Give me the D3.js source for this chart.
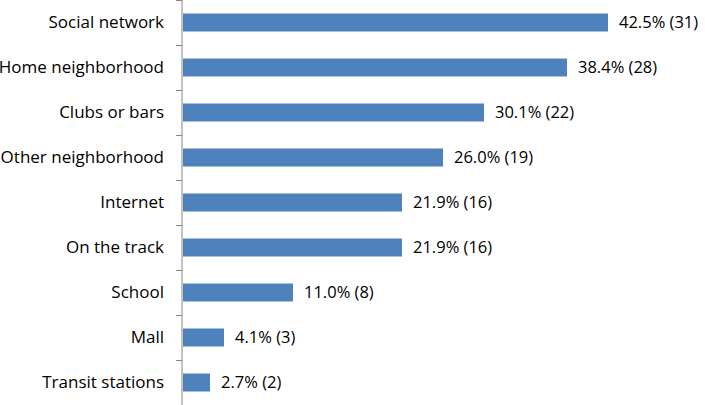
<!DOCTYPE html>
<html>
<head>
<meta charset="utf-8">
<script src="https://cdn.jsdelivr.net/npm/d3@7"></script>
<style>
  body { margin: 0; background: #fff; }
  svg { display: block; }
</style>
</head>
<body>
<div id="chart"></div>
<script>
'use strict';

// Data
const categories = ['Social network', 'Home neighborhood', 'Clubs or bars', 'Other neighborhood',
    'Internet', 'On the track', 'School', 'Mall', 'Transit stations'];
const percents = [42.5, 38.4, 30.1, 26.0, 21.9, 21.9, 11.0, 4.1, 2.7];
const counts = [31, 28, 22, 19, 16, 16, 8, 3, 2];

const width = 705, height = 405;
const margin = {top: 0, right: 72, bottom: 0, left: 183};

let data = categories.map((c, i) => ({name: c, pct: percents[i], n: counts[i]}));

let svg = d3.select('#chart').append('svg')
    .attr('width', width).attr('height', height);

let chart = svg.append('g').attr('transform', `translate(${margin.left},${margin.top})`);

// Scales
let x = d3.scaleLinear().domain([0, 45]).range([0, 450]);
let y = d3.scaleBand().domain(categories).range([0, height]).paddingInner(0.6).paddingOuter(0.3);

// Bars
chart.selectAll('rect.bar')
    .data(data)
    .join('rect')
    .classed('bar', true)
    .attr('x', 0)
    .attr('y', d => y(d.name))
    .attr('width', d => x(d.pct))
    .attr('height', y.bandwidth())
    .attr('fill', '#4F81BD');

// Value labels
chart.selectAll('text.value')
    .data(data)
    .join('text')
    .classed('value', true)
    .attr('x', d => x(d.pct) + 11)
    .attr('y', d => y(d.name) + y.bandwidth() / 2)
    .attr('dy', '0.35em')
    .attr('font-family', 'Open Sans, sans-serif')
    .attr('font-size', 16.5)
    .attr('fill', '#000')
    .text(d => `${d.pct.toFixed(1)}% (${d.n})`);

// Category axis
let step = height / categories.length;
let axisG = svg.append('g').attr('transform', `translate(${margin.left - 1},0)`);
axisG.append('line')
    .attr('y1', 0).attr('y2', height)
    .attr('stroke', '#868686').attr('stroke-width', 1);
axisG.selectAll('line.tick')
    .data(d3.range(categories.length + 1))
    .join('line')
    .classed('tick', true)
    .attr('x1', -6).attr('x2', 0)
    .attr('y1', i => Math.round(i * step) + 0.5)
    .attr('y2', i => Math.round(i * step) + 0.5)
    .attr('stroke', '#868686');
axisG.selectAll('text.cat')
    .data(categories)
    .join('text')
    .classed('cat', true)
    .attr('x', -18)
    .attr('y', d => y(d) + y.bandwidth() / 2)
    .attr('dy', '0.35em')
    .attr('text-anchor', 'end')
    .attr('font-family', 'Open Sans, sans-serif')
    .attr('font-size', 17)
    .attr('fill', '#000')
    .text(d => d);
</script>
</body>
</html>
